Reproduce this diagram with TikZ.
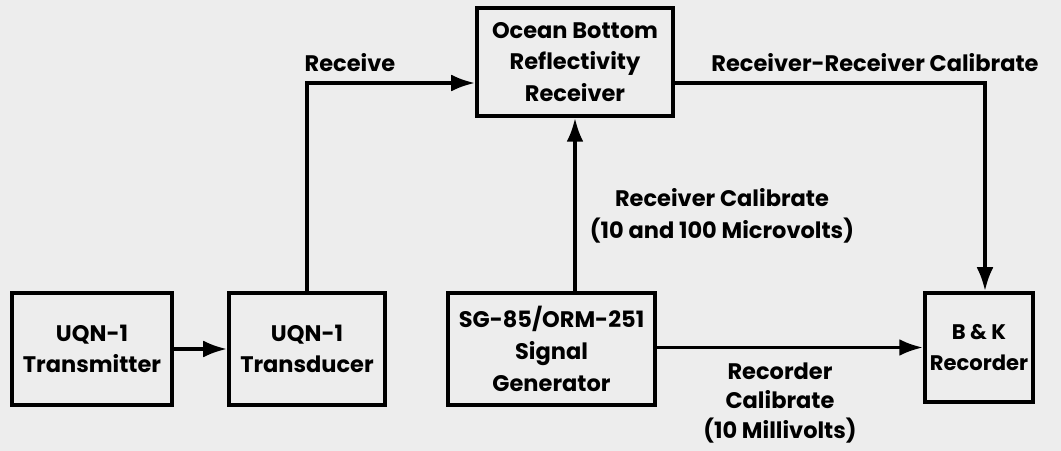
\documentclass[tikz,border=0pt]{standalone}
\usepackage{fontspec}
\setmainfont{Poppins}
\usetikzlibrary{arrows.meta,calc}
\begin{document}
\begin{tikzpicture}[x=0.025cm,y=-0.025cm,
  every node/.style={font=\fontsize{16}{22.5}\selectfont\bfseries, align=center, text=black},
  blk/.style={draw=black, line width=2.6pt, inner sep=0pt},
  conn/.style={draw=black, line width=2.6pt},
  arr/.style={conn, -{Latex[length=17pt,width=12pt]}},
  lbl/.style={inner sep=0pt}]
\fill[black!7] (0,0) rectangle (1061,451);
\useasboundingbox (0,0) rectangle (1061,451);
\node[blk, minimum width=4cm, minimum height=2.8cm] (tx) at (92,349) {UQN-1\\Transmitter};
\node[blk, minimum width=3.9cm, minimum height=2.8cm] (td) at (307,349) {UQN-1\\Transducer};
\node[blk, minimum width=4.9cm, minimum height=2.7cm] (obr) at (575,62) {Ocean Bottom\\Reflectivity\\Receiver};
\node[blk, minimum width=5.175cm, minimum height=2.8cm] (sg) at (551.5,349) {SG-85/ORM-251\\Signal\\Generator};
\node[blk, minimum width=2.7cm, minimum height=2.725cm, font=\fontsize{15}{22.5}\selectfont\bfseries] (bk) at (979,347.5) {B \& K\\Recorder};
\draw[arr] (tx) -- (td);
\draw[arr] (td.north) |- ([yshift=-0.525cm]obr.west);
\draw[arr] ([yshift=-0.525cm]obr.east) -| ([xshift=0.15cm]bk.north);
\draw[arr] (sg.north -| obr.south) -- (obr.south);
\draw[arr] (sg.east |- bk) -- (bk.west);
\node[lbl] (l1) at (350,63) {Receive};
\node[lbl] (l2) at (875,63) {Receiver-Receiver Calibrate};
\node[lbl] (l3) at (722,216) {Receiver Calibrate\\(10 and 100 Microvolts)};
\node[lbl, font=\fontsize{16}{21}\selectfont\bfseries] (l4) at (780,403) {Recorder\\Calibrate\\(10 Millivolts)};
\end{tikzpicture}
\end{document}
